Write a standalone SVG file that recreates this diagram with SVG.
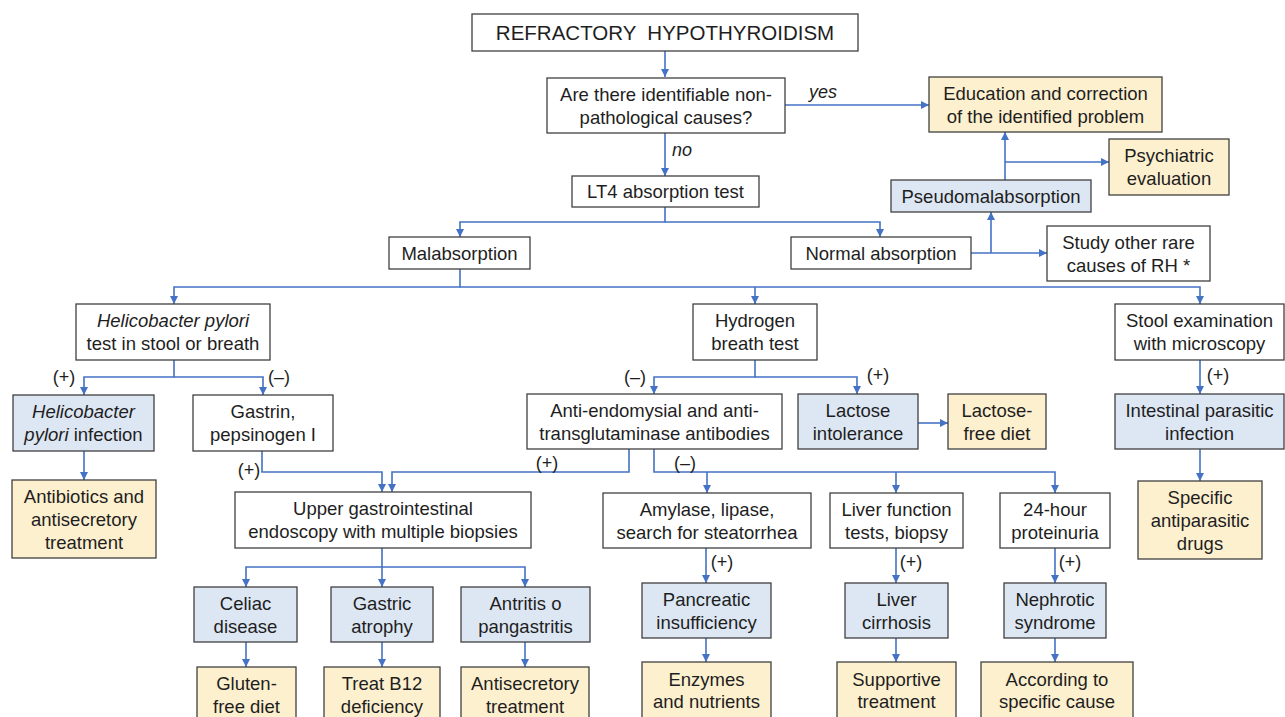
<svg xmlns="http://www.w3.org/2000/svg" width="1285" height="717" viewBox="0 0 1285 717">
<defs>
<style>
.b{fill:#ffffff;stroke:#404040;stroke-width:1.3}
.bl{fill:#dde7f3;stroke:#404040;stroke-width:1.3}
.y{fill:#fdf0cf;stroke:#404040;stroke-width:1.3}
text{font-family:"Liberation Sans",Arial,sans-serif;font-size:18.5px;fill:#1e1e1e;text-anchor:middle}
.i{font-style:italic}
.lbl{font-size:18px}
.c{fill:none;stroke:#4472c4;stroke-width:1.6}
.a{marker-end:url(#ah)}
</style>
<marker id="ah" viewBox="0 0 10 10" refX="10" refY="5" markerWidth="8" markerHeight="8" markerUnits="userSpaceOnUse" orient="auto">
<path d="M0,0 L10,5 L0,10 z" fill="#4472c4"/>
</marker>
</defs>
<rect width="1285" height="717" fill="#ffffff"/>
<g id="connectors">
<path class="c a" d="M665,51 V77"/>
<path class="c a" d="M665,133 V176"/>
<path class="c a" d="M785,105 H929"/>
<path class="c a" d="M665,207 V222 H460 V237"/>
<path class="c a" d="M665,222 H880 V237"/>
<path class="c a" d="M971,253 H1047"/>
<path class="c a" d="M991,253 V212"/>
<path class="c a" d="M1005,180 V132"/>
<path class="c a" d="M1005,162 H1109"/>
<path class="c a" d="M460,269 V287 H174 V304"/>
<path class="c a" d="M460,287 H1200 V304"/>
<path class="c a" d="M755,287 V304"/>
<path class="c a" d="M174,360 V377 H84 V395"/>
<path class="c a" d="M174,377 H263 V395"/>
<path class="c a" d="M84,451 V480"/>
<path class="c a" d="M262,451 V472 H382 V492"/>
<path class="c a" d="M629,449 V472 H392 V492"/>
<path class="c a" d="M755,360 V377 H654 V394"/>
<path class="c a" d="M755,377 H857 V394"/>
<path class="c a" d="M918,423 H948"/>
<path class="c a" d="M1200,360 V394"/>
<path class="c a" d="M1200,449 V481"/>
<path class="c a" d="M654,449 V472 H1055 V493"/>
<path class="c a" d="M707,472 V493"/>
<path class="c a" d="M896,472 V493"/>
<path class="c a" d="M706,548 V583"/>
<path class="c a" d="M706,638 V662"/>
<path class="c a" d="M896,548 V583"/>
<path class="c a" d="M896,638 V662"/>
<path class="c a" d="M1055,548 V583"/>
<path class="c a" d="M1055,638 V662"/>
<path class="c a" d="M382,548 V567 H246 V587"/>
<path class="c a" d="M382,567 H525 V587"/>
<path class="c a" d="M382,567 V587"/>
<path class="c a" d="M246,642 V667"/>
<path class="c a" d="M382,642 V667"/>
<path class="c a" d="M525,642 V667"/>
<text class="i lbl" x="823" y="98">yes</text>
<text class="i lbl" x="682" y="156">no</text>
<text class="lbl" x="64" y="383">(+)</text>
<text class="lbl" x="279" y="383">(–)</text>
<text class="lbl" x="249" y="476">(+)</text>
<text class="lbl" x="547" y="469">(+)</text>
<text class="lbl" x="685" y="469">(–)</text>
<text class="lbl" x="635" y="383">(–)</text>
<text class="lbl" x="878" y="381">(+)</text>
<text class="lbl" x="1218" y="381">(+)</text>
<text class="lbl" x="722" y="568">(+)</text>
<text class="lbl" x="911" y="568">(+)</text>
<text class="lbl" x="1070" y="568">(+)</text>
</g>
<g id="n_title"><rect class="b" x="472" y="14" width="386" height="37"/><text x="665" y="40" style="font-size:20.5px;white-space:pre">REFRACTORY  HYPOTHYROIDISM</text></g>
<g id="n_q"><rect class="b" x="547" y="78" width="238" height="55"/><text x="666" y="100.5">Are there identifiable non-</text><text x="666" y="123.5">pathological causes?</text></g>
<g id="n_edu"><rect class="y" x="929" y="77" width="233" height="55"/><text x="1045.5" y="99.5">Education and correction</text><text x="1045.5" y="122.5">of the identified problem</text></g>
<g id="n_lt4"><rect class="b" x="572" y="176" width="187" height="31"/><text x="665.5" y="198">LT4 absorption test</text></g>
<g id="n_psy"><rect class="y" x="1109" y="139" width="120" height="56"/><text x="1169" y="162">Psychiatric</text><text x="1169" y="185">evaluation</text></g>
<g id="n_pseudo"><rect class="bl" x="891" y="180" width="200" height="32"/><text x="991" y="202.5">Pseudomalabsorption</text></g>
<g id="n_mal"><rect class="b" x="389" y="237" width="141" height="32"/><text x="459.5" y="259.5">Malabsorption</text></g>
<g id="n_norm"><rect class="b" x="791" y="237" width="180" height="32"/><text x="881" y="259.5">Normal absorption</text></g>
<g id="n_study"><rect class="b" x="1047" y="226" width="163" height="55"/><text x="1128.5" y="248.5">Study other rare</text><text x="1128.5" y="271.5">causes of RH *</text></g>
<g id="n_hp"><rect class="b" x="76" y="304" width="194" height="56"/><text class="i" x="173" y="327">Helicobacter pylori</text><text x="173" y="350">test in stool or breath</text></g>
<g id="n_h2"><rect class="b" x="693" y="304" width="124" height="56"/><text x="755" y="327">Hydrogen</text><text x="755" y="350">breath test</text></g>
<g id="n_stool"><rect class="b" x="1115" y="304" width="169" height="56"/><text x="1199.5" y="327">Stool examination</text><text x="1199.5" y="350">with microscopy</text></g>
<g id="n_hpi"><rect class="bl" x="13" y="395" width="141" height="56"/><text class="i" x="83.5" y="418">Helicobacter</text><text x="83.5" y="441"><tspan class="i">pylori</tspan> infection</text></g>
<g id="n_gas"><rect class="b" x="193" y="395" width="140" height="56"/><text x="263" y="418">Gastrin,</text><text x="263" y="441">pepsinogen I</text></g>
<g id="n_anti"><rect class="b" x="527" y="394" width="255" height="55"/><text x="654.5" y="416.5">Anti-endomysial and anti-</text><text x="654.5" y="439.5">transglutaminase antibodies</text></g>
<g id="n_lac"><rect class="bl" x="798" y="394" width="120" height="55"/><text x="858" y="416.5">Lactose</text><text x="858" y="439.5">intolerance</text></g>
<g id="n_lacfree"><rect class="y" x="948" y="394" width="98" height="55"/><text x="997" y="416.5">Lactose-</text><text x="997" y="439.5">free diet</text></g>
<g id="n_para"><rect class="bl" x="1115" y="394" width="169" height="55"/><text x="1199.5" y="416.5">Intestinal parasitic</text><text x="1199.5" y="439.5">infection</text></g>
<g id="n_abx"><rect class="y" x="12" y="480" width="144" height="78"/><text x="84" y="502.5">Antibiotics and</text><text x="84" y="525.5">antisecretory</text><text x="84" y="548.5">treatment</text></g>
<g id="n_ugi"><rect class="b" x="235" y="492" width="296" height="56"/><text x="383" y="515">Upper gastrointestinal</text><text x="383" y="538">endoscopy with multiple biopsies</text></g>
<g id="n_amy"><rect class="b" x="603" y="493" width="208" height="55"/><text x="707" y="515.5">Amylase, lipase,</text><text x="707" y="538.5">search for steatorrhea</text></g>
<g id="n_liver"><rect class="b" x="830" y="493" width="133" height="55"/><text x="896.5" y="515.5">Liver function</text><text x="896.5" y="538.5">tests, biopsy</text></g>
<g id="n_prot"><rect class="b" x="1000" y="493" width="110" height="55"/><text x="1055" y="515.5">24-hour</text><text x="1055" y="538.5">proteinuria</text></g>
<g id="n_drugs"><rect class="y" x="1138" y="481" width="124" height="78"/><text x="1200" y="503.5">Specific</text><text x="1200" y="526.5">antiparasitic</text><text x="1200" y="549.5">drugs</text></g>
<g id="n_panc"><rect class="bl" x="642" y="583" width="129" height="55"/><text x="706.5" y="605.5">Pancreatic</text><text x="706.5" y="628.5">insufficiency</text></g>
<g id="n_cirr"><rect class="bl" x="845" y="583" width="103" height="55"/><text x="896.5" y="605.5">Liver</text><text x="896.5" y="628.5">cirrhosis</text></g>
<g id="n_neph"><rect class="bl" x="1004" y="583" width="102" height="55"/><text x="1055" y="605.5">Nephrotic</text><text x="1055" y="628.5">syndrome</text></g>
<g id="n_enz"><rect class="y" x="642" y="662" width="129" height="62"/><text x="706.5" y="685.5">Enzymes</text><text x="706.5" y="708">and nutrients</text></g>
<g id="n_supp"><rect class="y" x="837" y="662" width="119" height="62"/><text x="896.5" y="685.5">Supportive</text><text x="896.5" y="708">treatment</text></g>
<g id="n_acc"><rect class="y" x="981" y="662" width="152" height="62"/><text x="1057" y="685.5">According to</text><text x="1057" y="708">specific cause</text></g>
<g id="n_cel"><rect class="bl" x="194" y="587" width="103" height="55"/><text x="245.5" y="609.5">Celiac</text><text x="245.5" y="632.5">disease</text></g>
<g id="n_gat"><rect class="bl" x="331" y="587" width="102" height="55"/><text x="382" y="609.5">Gastric</text><text x="382" y="632.5">atrophy</text></g>
<g id="n_antr"><rect class="bl" x="461" y="587" width="129" height="55"/><text x="525.5" y="609.5">Antritis o</text><text x="525.5" y="632.5">pangastritis</text></g>
<g id="n_glu"><rect class="y" x="197" y="667" width="99" height="57"/><text x="246.5" y="689.5">Gluten-</text><text x="246.5" y="712.5">free diet</text></g>
<g id="n_b12"><rect class="y" x="324" y="667" width="116" height="57"/><text x="382" y="689.5">Treat B12</text><text x="382" y="712.5">deficiency</text></g>
<g id="n_antis"><rect class="y" x="461" y="667" width="128" height="57"/><text x="525" y="689.5">Antisecretory</text><text x="525" y="712.5">treatment</text></g>
</svg>
